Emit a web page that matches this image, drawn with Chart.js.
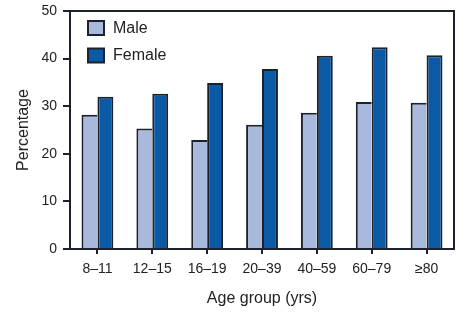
<!DOCTYPE html>
<html>
<head>
<meta charset="utf-8">
<script src="https://cdn.jsdelivr.net/npm/chart.js@4/dist/chart.umd.min.js"></script>
<style>
  html, body { margin: 0; padding: 0; background: #fff; }
  #wrap { width: 468px; height: 321px; }
</style>
</head>
<body>
<div id="wrap"><canvas id="c" width="468" height="321"></canvas></div>
<script>
// Age groups on the category axis
const ageGroups = ['8\u201311', '12\u201315', '16\u201319', '20\u201339', '40\u201359', '60\u201379', '\u226580'];
// Percentage by sex
const maleValues = [28.2, 25.3, 22.9, 26.1, 28.6, 30.9, 30.7];
const femaleValues = [32.0, 32.6, 34.9, 37.8, 40.6, 42.4, 40.7];
const seriesNames = ['Male', 'Female'];
const yTicks = [0, 10, 20, 30, 40, 50];

const INK = '#1c222c';
const MALE_FILL = '#a8b9dc';
const FEMALE_FILL = '#0b5aa6';
const FONT = "'Liberation Sans', Arial, Helvetica, sans-serif";

// Box around the plotting area and an inset legend in its top-left corner
const framePlugin = {
  id: 'frame',
  afterDraw(chart) {
    const { ctx, chartArea: a } = chart;
    ctx.save();
    ctx.strokeStyle = INK;
    ctx.lineWidth = 2;
    ctx.strokeRect(a.left, a.top, a.right - a.left, a.bottom - a.top);

    const fills = [MALE_FILL, FEMALE_FILL];
    ctx.font = '16px ' + FONT;
    ctx.textBaseline = 'middle';
    ctx.textAlign = 'left';
    seriesNames.forEach((name, i) => {
      const bx = a.left + 18, by = a.top + 10 + i * 27.5;
      ctx.fillStyle = fills[i];
      ctx.fillRect(bx, by, 16, 14);
      ctx.lineWidth = 2;
      ctx.strokeStyle = INK;
      ctx.strokeRect(bx, by, 16, 14);
      ctx.fillStyle = '#222';
      ctx.fillText(name, bx + 25, by + 7.5);
    });
    ctx.restore();
  }
};

new Chart(document.getElementById('c'), {
  type: 'bar',
  data: {
    labels: ageGroups,
    datasets: [
      // the male bar shares its right edge with the female bar's left outline
      { label: seriesNames[0], data: maleValues, backgroundColor: MALE_FILL, borderColor: INK,
        borderWidth: { left: 2, top: 2, right: 0, bottom: 0 }, borderSkipped: false },
      { label: seriesNames[1], data: femaleValues, backgroundColor: FEMALE_FILL, borderColor: INK,
        borderWidth: { left: 2, top: 2, right: 2, bottom: 0 }, borderSkipped: false }
    ]
  },
  options: {
    responsive: false,
    animation: false,
    devicePixelRatio: 1,
    layout: { padding: { left: 0, top: 11, right: 14, bottom: 0 } },
    plugins: { legend: { display: false }, tooltip: { enabled: false } },
    datasets: { bar: { categoryPercentage: 0.58, barPercentage: 1 } },
    scales: {
      x: {
        grid: { display: true, drawOnChartArea: false, offset: false, color: INK, lineWidth: 2, tickLength: 5 },
        border: { display: true, color: INK, width: 2 },
        ticks: { color: '#222', font: { family: FONT, size: 14 }, padding: 7, maxRotation: 0 },
        title: { display: true, text: 'Age group (yrs)', color: '#222', font: { family: FONT, size: 16 }, padding: { top: 4, bottom: 13 } },
        afterFit(s) { s.height = 72; }
      },
      y: {
        min: 0, max: 50,
        afterBuildTicks(s) { s.ticks = yTicks.map(v => ({ value: v })); },
        grid: { display: true, drawOnChartArea: false, color: INK, lineWidth: 2, tickLength: 7 },
        border: { display: true, color: INK, width: 2 },
        ticks: { color: '#222', font: { family: FONT, size: 14 }, padding: 6 },
        title: { display: true, text: 'Percentage', color: '#222', font: { family: FONT, size: 16 }, padding: { top: 14 } },
        // fixed axis width; the top label may overhang the plot's top padding
        afterFit(s) { s.width = 70; s.paddingTop = 0; s.paddingBottom = 0; }
      }
    }
  },
  plugins: [framePlugin]
});
</script>
</body>
</html>
